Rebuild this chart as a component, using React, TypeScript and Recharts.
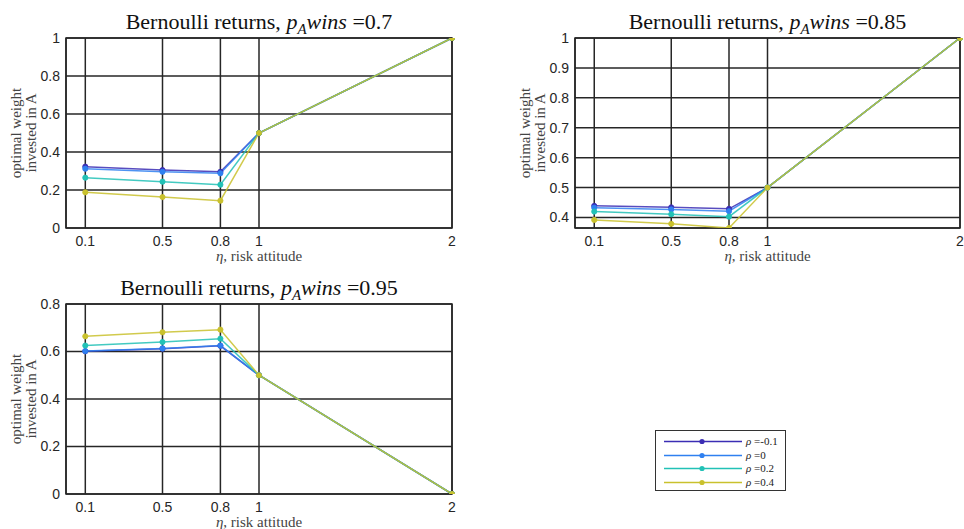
import React from 'react';
import {
  LineChart,
  Line,
  XAxis,
  YAxis,
  CartesianGrid,
  ReferenceArea
} from 'recharts';

const etas = [0.1, 0.5, 0.8, 1, 2];
const rhoKeys = ['rm01', 'r0', 'r02', 'r04'];
const rhoLabels = ['-0.1', '0', '0.2', '0.4'];
const COLORS = ['#3b2db4', '#2f80f0', '#22c1b6', '#c9c12d'];

// p_A wins = 0.7
const p07RhoM01 = [0.323, 0.305, 0.296, 0.5, 1];
const p07Rho0 = [0.312, 0.296, 0.288, 0.5, 1];
const p07Rho02 = [0.265, 0.244, 0.228, 0.5, 1];
const p07Rho04 = [0.188, 0.163, 0.144, 0.5, 1];

// p_A wins = 0.85
const p085RhoM01 = [0.439, 0.434, 0.429, 0.5, 1];
const p085Rho0 = [0.433, 0.427, 0.421, 0.5, 1];
const p085Rho02 = [0.42, 0.411, 0.403, 0.5, 1];
const p085Rho04 = [0.392, 0.379, 0.365, 0.5, 1];

// p_A wins = 0.95
const p095RhoM01 = [0.601, 0.612, 0.624, 0.5, 0];
const p095Rho0 = [0.602, 0.613, 0.625, 0.5, 0];
const p095Rho02 = [0.625, 0.64, 0.654, 0.5, 0];
const p095Rho04 = [0.664, 0.681, 0.692, 0.5, 0];

const yTicks07 = [0, 0.2, 0.4, 0.6, 0.8, 1];
const yTicks085 = [0.4, 0.5, 0.6, 0.7, 0.8, 0.9, 1];
const yTicks095 = [0, 0.2, 0.4, 0.6, 0.8];

function buildRows(series: number[][]) {
  return etas.map((eta, i) => {
    const row: any = { eta };
    rhoKeys.forEach((k, j) => {
      row[k] = series[j][i];
    });
    return row;
  });
}

const data07 = buildRows([p07RhoM01, p07Rho0, p07Rho02, p07Rho04]);
const data085 = buildRows([p085RhoM01, p085Rho0, p085Rho02, p085Rho04]);
const data095 = buildRows([p095RhoM01, p095Rho0, p095Rho02, p095Rho04]);

const serif = '"Liberation Serif", "DejaVu Serif", serif';
const sans = '"Liberation Sans", Arial, sans-serif';
const GRID = '#262626';

interface PanelProps {
  data: any[];
  pWins: string;
  yDomain: [number, number];
  yTicks: number[];
  left: number;
  top: number;
  width: number;
  height: number;
  yAxisWidth: number;
  marginTop: number;
  marginRight: number;
  xAxisHeight: number;
}

function Panel({
  data, pWins, yDomain, yTicks, left, top, width, height,
  yAxisWidth, marginTop, marginRight, xAxisHeight
}: PanelProps) {
  const plotLeft = yAxisWidth;
  const plotRight = width - marginRight;
  const plotCenter = (plotLeft + plotRight) / 2;
  const plotBottom = height - xAxisHeight;
  const plotMid = (marginTop + plotBottom) / 2;

  return (
    <div style={{ position: 'absolute', left, top, width, height }}>
      <LineChart
        width={width}
        height={height}
        data={data}
        margin={{ top: marginTop, right: marginRight, left: 0, bottom: 0 }}
      >
        <CartesianGrid stroke={GRID} strokeWidth={1.5} />
        <XAxis
          dataKey="eta"
          type="number"
          domain={[0, 2]}
          ticks={etas}
          height={xAxisHeight}
          tickSize={0}
          tickMargin={8}
          axisLine={false}
          tick={{ fill: '#262626', fontSize: 14, fontFamily: sans }}
          interval={0}
        />
        <YAxis
          type="number"
          domain={yDomain}
          ticks={yTicks}
          width={yAxisWidth}
          allowDataOverflow
          tickSize={0}
          tickMargin={6}
          axisLine={false}
          tick={{ fill: '#262626', fontSize: 14, fontFamily: sans }}
          interval={0}
        />
        <ReferenceArea
          x1={0}
          x2={2}
          y1={yDomain[0]}
          y2={yDomain[1]}
          fill="none"
          stroke={GRID}
          strokeWidth={1.5}
          ifOverflow="visible"
        />
        {rhoKeys.map((k, i) => (
          <Line
            key={k}
            dataKey={k}
            type="linear"
            stroke={COLORS[i]}
            strokeWidth={1.5}
            strokeOpacity={0.85}
            dot={{ r: 2.6, fill: COLORS[i], stroke: COLORS[i], strokeWidth: 1 }}
            isAnimationActive={false}
          />
        ))}
      </LineChart>
      <div
        style={{
          position: 'absolute', left: plotCenter - 220, width: 440, top: marginTop - 29,
          textAlign: 'center', fontFamily: serif, fontSize: 22, lineHeight: '25px',
          color: '#111', whiteSpace: 'nowrap'
        }}
      >
        Bernoulli returns, <i>p</i>
        <sub style={{ fontSize: 15, fontStyle: 'italic', verticalAlign: '-0.3em' }}>A</sub>
        <i>wins</i> =<span>{pWins}</span>
      </div>
      <div
        style={{
          position: 'absolute', left: plotCenter - 100, width: 200, top: plotBottom + 21,
          textAlign: 'center', fontFamily: serif, fontSize: 15, lineHeight: '14px', color: '#444'
        }}
      >
        <i>η</i>, risk attitude
      </div>
      <div
        style={{
          position: 'absolute', left: yAxisWidth - 42, top: plotMid,
          transform: 'translate(-50%, -50%) rotate(-90deg)',
          textAlign: 'center', fontFamily: serif, fontSize: 15, lineHeight: '15px',
          color: '#444', whiteSpace: 'nowrap'
        }}
      >
        optimal weight<br />invested in A
      </div>
    </div>
  );
}

function RhoLegend() {
  return (
    <div
      style={{
        position: 'absolute', left: 655, top: 430, width: 131, height: 61,
        border: '1px solid #333', background: '#fff', boxSizing: 'border-box'
      }}
    >
      {rhoLabels.map((lab, i) => (
        <div key={lab} style={{ position: 'absolute', left: 0, top: 4 + i * 13.5, height: 13, width: 130 }}>
          <svg width={82} height={13} style={{ position: 'absolute', left: 6, top: 0 }}>
            <line x1={2} y1={6.5} x2={80} y2={6.5} stroke={COLORS[i]} strokeWidth={1.5} />
            <circle cx={40} cy={6.5} r={2.6} fill={COLORS[i]} />
          </svg>
          <span
            style={{
              position: 'absolute', left: 90, top: 0, fontFamily: serif, fontSize: 11,
              lineHeight: '13px', color: '#222', whiteSpace: 'nowrap'
            }}
          >
            <i>ρ</i> =<span>{lab}</span>
          </span>
        </div>
      ))}
    </div>
  );
}

export default function App() {
  return (
    <div style={{ position: 'fixed', left: 0, top: 0, width: 964, height: 529, background: '#fff', overflow: 'hidden' }}>
      <Panel
        data={data07}
        pWins="0.7"
        yDomain={[0, 1]}
        yTicks={yTicks07}
        left={0}
        top={0}
        width={470}
        height={265}
        yAxisWidth={66}
        marginTop={38}
        marginRight={18}
        xAxisHeight={37}
      />
      <Panel
        data={data085}
        pWins="0.85"
        yDomain={[0.365, 1]}
        yTicks={yTicks085}
        left={480}
        top={0}
        width={484}
        height={265}
        yAxisWidth={95}
        marginTop={38}
        marginRight={4}
        xAxisHeight={37}
      />
      <Panel
        data={data095}
        pWins="0.95"
        yDomain={[0, 0.8]}
        yTicks={yTicks095}
        left={0}
        top={270}
        width={470}
        height={259}
        yAxisWidth={66}
        marginTop={34}
        marginRight={18}
        xAxisHeight={35}
      />
      <RhoLegend />
    </div>
  );
}
